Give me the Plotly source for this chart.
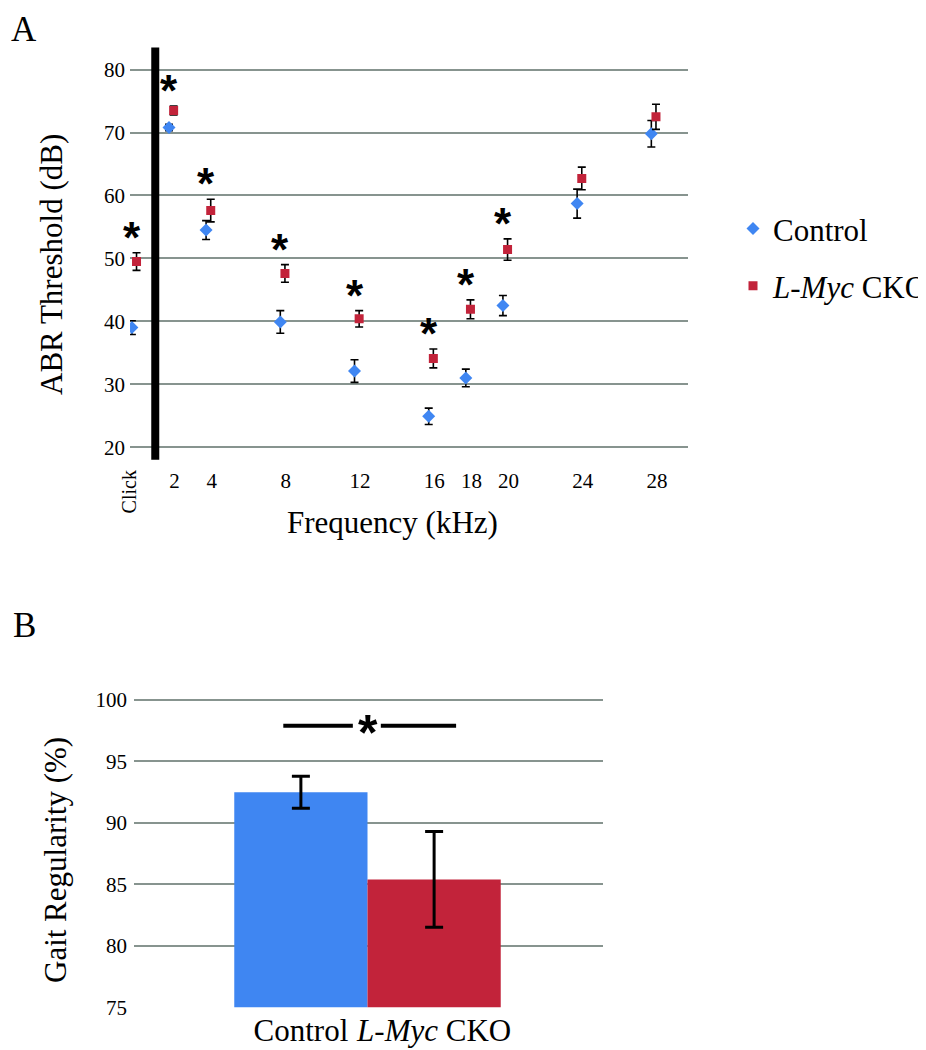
import plotly.graph_objects as go

# ABR thresholds (panel A) - click + tone frequencies in kHz, click placed at 0
freqs = [0, 2, 4, 8, 12, 16, 18, 20, 24, 28]
freq_labels = ["Click", "2", "4", "8", "12", "16", "18", "20", "24", "28"]
control_abr = [39.0, 70.8, 54.5, 39.9, 32.1, 24.9, 31.0, 42.5, 58.7, 69.8]
control_abr_err = [1.1, 0.5, 1.5, 1.8, 1.8, 1.3, 1.4, 1.6, 2.3, 2.1]
lmyc_abr = [49.5, 73.5, 57.6, 47.6, 40.4, 34.1, 41.9, 51.4, 62.7, 72.5]
lmyc_abr_err = [1.4, 0.7, 1.8, 1.4, 1.3, 1.5, 1.5, 1.7, 1.8, 2.0]
abr_significant = [True, True, True, True, True, True, True, True, False, False]

# Gait regularity (panel B)
groups = ["Control", "<i>L-Myc</i> CKO"]
gait_mean = [92.5, 85.4]
gait_err = [1.3, 3.9]

BLUE = "#3f86f2"
RED = "#c2233a"
GRID = "#87948f"
SERIF = "Liberation Serif"
W, H = 926, 1050

def px_x(p):
    return p / W

def px_y(p):
    return 1 - p / H

def label(x, y, text, size, angle=0, family=SERIF):
    # text placed by pixel position of its centre
    return dict(x=px_x(x), y=px_y(y), xref="paper", yref="paper", text=text,
                textangle=angle, showarrow=False, xanchor="center", yanchor="middle",
                font=dict(family=family, size=size, color="black"))

fig = go.Figure()

# Panel A
fig.add_trace(go.Scatter(
    x=freqs, y=control_abr, mode="markers", name="Control",
    legendgroup="c",
    marker=dict(symbol="diamond", color=BLUE, size=10),
    error_y=dict(type="data", array=control_abr_err, color="black", thickness=1.6, width=4),
    xaxis="x", yaxis="y",
))
fig.add_trace(go.Scatter(
    x=[f + 0.25 for f in freqs], y=lmyc_abr, mode="markers", name="<i>L-Myc</i> CKO",
    legendgroup="l",
    marker=dict(symbol="square", color=RED, size=9),
    error_y=dict(type="data", array=lmyc_abr_err, color="black", thickness=1.6, width=4),
    xaxis="x", yaxis="y",
))

# Panel B
fig.add_trace(go.Bar(
    x=[0, 1], y=gait_mean, width=1,
    marker=dict(color=[BLUE, RED], line=dict(width=0)),
    error_y=dict(type="data", array=gait_err, color="black", thickness=3, width=9),
    showlegend=False, xaxis="x2", yaxis="y2",
))

annotations = []
# significance asterisks over the L-Myc points
for f, m, e, sig in zip(freqs, lmyc_abr, lmyc_abr_err, abr_significant):
    if sig:
        annotations.append(dict(
            x=f, y=m + e, xref="x", yref="y", text="<b>*</b>", showarrow=False,
            xanchor="center", yanchor="bottom", yshift=-11,
            font=dict(family="Liberation Sans", size=44, color="black"),
        ))

annotations += [
    label(16, 22, "A", 35),
    label(17, 625, "B", 35),
    label(44, 259, "ABR Threshold (dB)", 31, angle=-90),
    label(394, 520, "Frequency (kHz)", 31),
    label(124, 490, freq_labels[0], 20, angle=-90),
    label(48, 862, "Gait Regularity (%)", 31, angle=-90),
    dict(x=0.5, y=97.9, xref="x2", yref="y2", text="<b>*</b>", showarrow=False,
         xanchor="center", yanchor="middle", yshift=-7,
         font=dict(family="Liberation Sans", size=50, color="black")),
]

shapes = [
    # thick divider between click and tone frequencies
    dict(type="line", xref="x", yref="y domain", x0=1.26, x1=1.26, y0=0.0, y1=1.0,
         line=dict(color="black", width=8)),
    # significance bar in panel B
    dict(type="line", xref="x2", yref="y2", x0=-0.132, x1=0.39, y0=97.9, y1=97.9,
         line=dict(color="black", width=4)),
    dict(type="line", xref="x2", yref="y2", x0=0.60, x1=1.165, y0=97.9, y1=97.9,
         line=dict(color="black", width=4)),
]

fig.update_layout(
    width=W, height=H,
    margin=dict(l=0, r=0, t=0, b=0),
    paper_bgcolor="white", plot_bgcolor="white",
    font=dict(family=SERIF, color="black"),
    xaxis=dict(
        domain=[px_x(125), px_x(697)], range=[-0.1, 30],
        tickvals=[f + 0.3 for f in freqs[1:]], ticktext=freq_labels[1:],
        tickfont=dict(size=21), ticks="", ticklabelstandoff=6,
        showgrid=False, zeroline=False, showline=False, anchor="y",
    ),
    yaxis=dict(
        domain=[px_y(457), px_y(40)], range=[18, 83.5],
        tickvals=[20, 30, 40, 50, 60, 70, 80], tickfont=dict(size=21),
        ticks="", ticklabelstandoff=4,
        showgrid=True, gridcolor=GRID, gridwidth=2,
        zeroline=False, showline=False, anchor="x",
    ),
    xaxis2=dict(
        domain=[px_x(129), px_x(609)], range=[-1.253, 2.264],
        tickvals=[0, 1], ticktext=groups, tickfont=dict(size=31),
        ticks="", ticklabelstandoff=2,
        showgrid=False, zeroline=False, showline=False, anchor="y2",
    ),
    yaxis2=dict(
        domain=[px_y(1010.7), px_y(687.6)], range=[75, 101],
        tickvals=[75, 80, 85, 90, 95, 100], tickfont=dict(size=21),
        ticks="", ticklabelstandoff=6,
        showgrid=True, gridcolor=GRID, gridwidth=2,
        zeroline=False, showline=False, anchor="x2",
    ),
    showlegend=True,
    legend=dict(
        x=px_x(743), y=px_y(196), xanchor="left", yanchor="top",
        font=dict(family=SERIF, size=31, color="black"),
        tracegroupgap=14, itemwidth=30, bgcolor="rgba(0,0,0,0)",
    ),
    annotations=annotations,
    shapes=shapes,
)

fig.write_html("out.html")
